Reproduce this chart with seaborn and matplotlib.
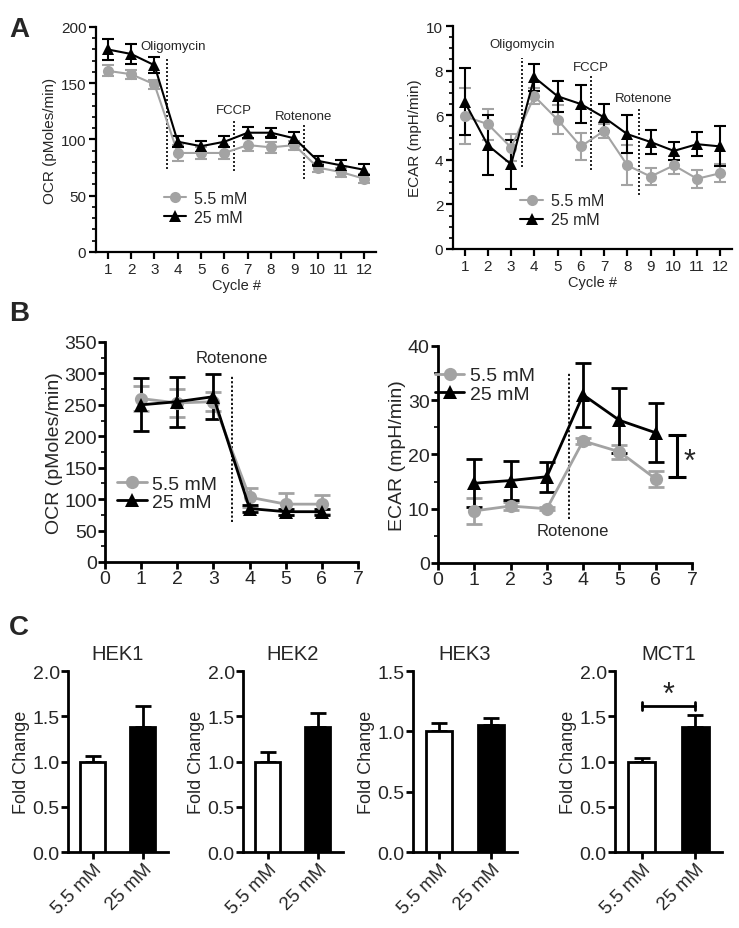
import numpy as np
import pandas as pd
import matplotlib
matplotlib.use('Agg')
import matplotlib.pyplot as plt
import seaborn as sb
from matplotlib.ticker import MultipleLocator

sb.set_style('ticks')
plt.rcParams['font.family'] = ['Liberation Sans', 'DejaVu Sans']

# ---- data ----
cycles_a = list(range(1, 13))
ocr_a_low = [161, 158, 149, 88, 88, 88, 95, 93, 95, 75, 71, 65]
ocr_a_low_err = [5, 4, 4, 7, 5, 5, 5, 5, 4, 4, 4, 4]
ocr_a_high = [180, 176, 166, 98, 94, 98, 106, 106, 101, 81, 77, 73]
ocr_a_high_err = [9, 9, 7, 5, 5, 5, 5, 4, 6, 4, 5, 5]

ecar_a_low = [5.95, 5.6, 4.55, 6.85, 5.8, 4.6, 5.3, 3.75, 3.25, 3.75, 3.15, 3.4]
ecar_a_low_err = [1.25, 0.7, 0.6, 0.35, 0.65, 0.6, 0.3, 0.9, 0.4, 0.4, 0.4, 0.4]
ecar_a_high = [6.6, 4.65, 3.8, 7.7, 6.85, 6.5, 5.9, 5.15, 4.8, 4.4, 4.7, 4.6]
ecar_a_high_err = [1.5, 1.35, 1.1, 0.6, 0.7, 0.85, 0.6, 0.85, 0.55, 0.4, 0.55, 0.9]

cycles_b = [1, 2, 3, 4, 5, 6]
ocr_b_low = [260, 253, 255, 103, 92, 92]
ocr_b_low_err = [20, 22, 15, 15, 17, 15]
ocr_b_high = [250, 255, 263, 85, 80, 80]
ocr_b_high_err = [42, 40, 36, 5, 5, 5]

ecar_b_low = [9.6, 10.5, 10.0, 22.5, 20.5, 15.5]
ecar_b_low_err = [2.4, 0.8, 0.3, 0.5, 1.3, 1.5]
ecar_b_high = [14.7, 15.2, 15.9, 31.0, 26.3, 24.0]
ecar_b_high_err = [4.4, 3.6, 2.8, 5.9, 6.0, 5.4]

groups = ['5.5 mM', '25 mM']
genes = ['HEK1', 'HEK2', 'HEK3', 'MCT1']
fold_means = [[1.0, 1.38], [1.0, 1.38], [1.0, 1.05], [1.0, 1.38]]
fold_errs = [[0.06, 0.23], [0.11, 0.16], [0.07, 0.06], [0.04, 0.13]]
fold_ymax = [2.0, 2.0, 1.5, 2.0]

gray = '#a3a3a3'
fig = plt.figure(figsize=(7.39, 9.29), dpi=100)


def style_axes(ax, lw=1.8):
    sb.despine(ax=ax)
    for s in ['left', 'bottom']:
        ax.spines[s].set_linewidth(lw)
        ax.spines[s].set_color('black')
    ax.tick_params(which='major', length=5, width=lw, color='black', direction='out')
    ax.tick_params(which='minor', length=3, width=1.2, color='black', direction='out')


def line_panel(ax, x, lo, lo_err, hi, hi_err, ms, lw, cap):
    df = pd.DataFrame({'x': x * 2, 'y': lo + hi,
                       'grp': [groups[0]] * len(x) + [groups[1]] * len(x)})
    ax.errorbar(x, lo, yerr=lo_err, fmt='none', ecolor=gray, elinewidth=lw,
                capsize=cap, capthick=lw, zorder=2)
    ax.errorbar(x, hi, yerr=hi_err, fmt='none', ecolor='black', elinewidth=lw,
                capsize=cap, capthick=lw, zorder=3)
    sb.lineplot(data=df, x='x', y='y', hue='grp', style='grp',
                palette=[gray, 'black'], markers=['o', '^'], dashes=False,
                markersize=ms, markeredgewidth=0, linewidth=lw, ax=ax, zorder=4)
    ax.set_xlabel('')
    ax.set_ylabel('')


# ---- Panel A left ----
ax1 = fig.add_axes([0.130, 0.7277, 0.379, 0.2422])
line_panel(ax1, cycles_a, ocr_a_low, ocr_a_low_err, ocr_a_high, ocr_a_high_err, 8, 1.5, 4)
ax1.set_xlim(0.5, 12.5)
ax1.set_ylim(0, 200)
ax1.set_xticks(cycles_a)
ax1.yaxis.set_major_locator(MultipleLocator(50))
ax1.yaxis.set_minor_locator(MultipleLocator(10))
ax1.set_ylabel('OCR (pMoles/min)', fontsize=11, labelpad=3)
ax1.set_xlabel('Cycle #', fontsize=10.5, labelpad=2)
ax1.tick_params(labelsize=11, pad=2)
for xv, y0, y1 in [(3.55, 74, 172), (6.4, 72, 118), (9.4, 65, 114)]:
    ax1.plot([xv, xv], [y0, y1], color='black', lw=1.2, ls=(0, (1.2, 1.2)))
ax1.text(2.4, 183, 'Oligomycin', fontsize=9.5, ha='left', va='center')
ax1.text(6.4, 126, 'FCCP', fontsize=9.5, ha='center', va='center')
ax1.text(9.4, 121, 'Rotenone', fontsize=9.5, ha='center', va='center')
ax1.legend(frameon=False, loc='upper left', bbox_to_anchor=(0.19, 0.335),
           fontsize=11.5, handlelength=1.4, handletextpad=0.5, labelspacing=0.25)
style_axes(ax1, 1.6)

# ---- Panel A right ----
ax2 = fig.add_axes([0.613, 0.7309, 0.3775, 0.240])
line_panel(ax2, cycles_a, ecar_a_low, ecar_a_low_err, ecar_a_high, ecar_a_high_err, 8, 1.5, 4)
ax2.set_xlim(0.5, 12.5)
ax2.set_ylim(0, 10)
ax2.set_xticks(cycles_a)
ax2.yaxis.set_major_locator(MultipleLocator(2))
ax2.yaxis.set_minor_locator(MultipleLocator(0.5))
ax2.set_ylabel('ECAR (mpH/min)', fontsize=11, labelpad=3)
ax2.set_xlabel('Cycle #', fontsize=10.5, labelpad=2)
ax2.tick_params(labelsize=11, pad=2)
for xv, y0, y1 in [(3.47, 3.67, 8.56), (6.44, 3.56, 7.78), (8.5, 2.4, 6.29)]:
    ax2.plot([xv, xv], [y0, y1], color='black', lw=1.2, ls=(0, (1.2, 1.2)))
ax2.text(3.47, 9.2, 'Oligomycin', fontsize=9.5, ha='center', va='center')
ax2.text(6.44, 8.16, 'FCCP', fontsize=9.5, ha='center', va='center')
ax2.text(8.68, 6.78, 'Rotenone', fontsize=9.5, ha='center', va='center')
ax2.legend(frameon=False, loc='upper left', bbox_to_anchor=(0.19, 0.315),
           fontsize=11.5, handlelength=1.4, handletextpad=0.5, labelspacing=0.25)
style_axes(ax2, 1.6)

# ---- Panel B left ----
ax3 = fig.add_axes([0.1421, 0.3940, 0.3424, 0.2368])
line_panel(ax3, cycles_b, ocr_b_low, ocr_b_low_err, ocr_b_high, ocr_b_high_err, 9.5, 2, 5.5)
ax3.set_xlim(0, 7)
ax3.set_ylim(0, 350)
ax3.set_xticks(range(0, 8))
ax3.yaxis.set_major_locator(MultipleLocator(50))
ax3.yaxis.set_minor_locator(MultipleLocator(25))
ax3.set_ylabel('OCR (pMoles/min)', fontsize=14, labelpad=1)
ax3.tick_params(labelsize=14, pad=1)
ax3.plot([3.5, 3.5], [64, 297], color='black', lw=1.3, ls=(0, (1.2, 1.2)))
ax3.text(3.5, 326, 'Rotenone', fontsize=12, ha='center', va='center')
ax3.legend(frameon=False, loc='upper left', bbox_to_anchor=(-0.02, 0.475),
           fontsize=14, handlelength=1.5, handletextpad=0.3, labelspacing=0.05)
style_axes(ax3, 2)

# ---- Panel B right ----
ax4 = fig.add_axes([0.5927, 0.3929, 0.3437, 0.2336])
line_panel(ax4, cycles_b, ecar_b_low, ecar_b_low_err, ecar_b_high, ecar_b_high_err, 9.5, 2, 5.5)
ax4.set_xlim(0, 7)
ax4.set_ylim(0, 40)
ax4.set_xticks(range(0, 8))
ax4.yaxis.set_major_locator(MultipleLocator(10))
ax4.yaxis.set_minor_locator(MultipleLocator(5))
ax4.set_ylabel('ECAR (mpH/min)', fontsize=14, labelpad=1)
ax4.tick_params(labelsize=14, pad=1)
ax4.plot([3.6, 3.6], [8.1, 35.2], color='black', lw=1.3, ls=(0, (1.2, 1.2)))
ax4.text(3.72, 5.9, 'Rotenone', fontsize=12, ha='center', va='center')
ax4.errorbar([6.6], [19.65], yerr=[3.85], fmt='none', ecolor='black',
             elinewidth=2.2, capsize=6.5, capthick=2.2, clip_on=False)
ax4.text(6.92, 18.6, '*', fontsize=22, ha='center', va='center', clip_on=False)
ax4.legend(frameon=False, loc='upper left', bbox_to_anchor=(-0.08, 0.985),
           fontsize=14, handlelength=1.5, handletextpad=0.3, labelspacing=0.05)
style_axes(ax4, 2)

# ---- Panel C ----
c_lefts = [0.092, 0.3288, 0.5589, 0.8322]
c_widths = [0.1353, 0.1353, 0.1407, 0.1448]
for i, g in enumerate(genes):
    ax = fig.add_axes([c_lefts[i], 0.0818, c_widths[i], 0.1948])
    bdf = pd.DataFrame({'grp': groups, 'val': fold_means[i]})
    sb.barplot(data=bdf, x='grp', y='val', hue='grp', palette=['white', 'black'],
               width=0.5, edgecolor='black', linewidth=2, legend=False, ax=ax,
               zorder=3)
    ax.errorbar([0, 1], fold_means[i], yerr=[[0, 0], fold_errs[i]], fmt='none',
                ecolor='black', elinewidth=2, capsize=5.5, capthick=2, zorder=2)
    ax.set_xlim(-0.5, 1.5)
    ax.set_ylim(0, fold_ymax[i])
    ax.yaxis.set_major_locator(MultipleLocator(0.5))
    ax.yaxis.set_major_formatter(matplotlib.ticker.FormatStrFormatter('%.1f'))
    ax.set_xlabel('')
    ax.set_ylabel('Fold Change', fontsize=13, labelpad=2)
    ax.set_title(g, fontsize=14.5, pad=9)
    ax.tick_params(labelsize=14, pad=1)
    ax.set_xticks([0, 1])
    ax.set_xticklabels(groups, rotation=45, ha='right', rotation_mode='anchor',
                       fontsize=13.5)
    style_axes(ax, 2)
    if g == 'MCT1':
        ax.plot([0, 1], [1.61, 1.61], color='black', lw=2)
        ax.plot([0, 0], [1.57, 1.66], color='black', lw=2)
        ax.plot([1, 1], [1.57, 1.66], color='black', lw=2)
        ax.text(0.5, 1.74, '*', fontsize=22, ha='center', va='center')

fig.text(0.012, 0.982, 'A', fontsize=20, fontweight='bold', va='top')
fig.text(0.012, 0.676, 'B', fontsize=20, fontweight='bold', va='top')
fig.text(0.012, 0.338, 'C', fontsize=20, fontweight='bold', va='top')

fig.savefig('out.png', dpi=100)
